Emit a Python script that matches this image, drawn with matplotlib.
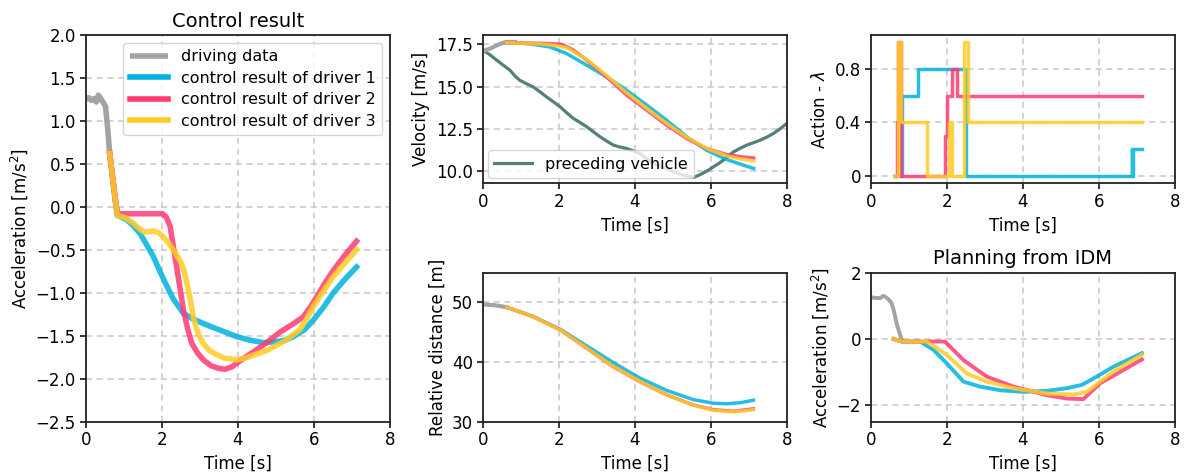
import matplotlib
matplotlib.use("Agg")
import matplotlib.pyplot as plt

# ---------------- data ----------------
# Control result (acceleration)
drv_t = [0.0, 0.08, 0.15, 0.22, 0.28, 0.33, 0.38, 0.45, 0.52, 0.58, 0.63, 0.70, 0.78, 0.85]
drv_a = [1.25, 1.27, 1.24, 1.26, 1.22, 1.30, 1.27, 1.22, 1.17, 0.90, 0.62, 0.35, 0.05, -0.10]

c1_t = [0.63, 0.83, 1.08, 1.25, 1.43, 1.60, 1.78, 1.95, 2.13, 2.30, 2.57, 2.80, 3.00, 3.27, 3.62, 3.97, 4.30, 4.67, 5.00, 5.25, 5.46, 5.75, 5.98, 6.25, 6.51, 6.80, 7.12]
c1_a = [0.62, -0.10, -0.15, -0.22, -0.31, -0.44, -0.58, -0.75, -0.92, -1.07, -1.24, -1.30, -1.34, -1.39, -1.45, -1.51, -1.55, -1.58, -1.57, -1.55, -1.51, -1.43, -1.32, -1.17, -1.00, -0.85, -0.70]

c2_t = [0.63, 0.83, 1.20, 1.60, 2.02, 2.12, 2.22, 2.30, 2.39, 2.48, 2.57, 2.68, 2.79, 2.94, 3.09, 3.30, 3.50, 3.66, 3.85, 4.06, 4.40, 4.76, 5.10, 5.46, 5.72, 5.90, 6.07, 6.30, 6.51, 6.80, 7.12]
c2_a = [0.62, -0.08, -0.08, -0.08, -0.08, -0.12, -0.23, -0.45, -0.70, -0.95, -1.20, -1.42, -1.59, -1.70, -1.78, -1.85, -1.88, -1.89, -1.86, -1.79, -1.69, -1.58, -1.46, -1.36, -1.28, -1.17, -1.05, -0.88, -0.74, -0.57, -0.40]

c3_t = [0.63, 0.83, 1.05, 1.25, 1.40, 1.52, 1.65, 1.78, 1.92, 2.04, 2.18, 2.30, 2.42, 2.52, 2.60, 2.66, 2.75, 2.83, 2.95, 3.09, 3.25, 3.44, 3.65, 3.97, 4.20, 4.45, 4.76, 4.98, 5.20, 5.42, 5.63, 5.80, 5.98, 6.25, 6.51, 6.80, 7.12]
c3_a = [0.62, -0.10, -0.13, -0.19, -0.25, -0.29, -0.29, -0.28, -0.30, -0.35, -0.42, -0.50, -0.58, -0.66, -0.77, -0.89, -1.08, -1.28, -1.47, -1.59, -1.67, -1.72, -1.76, -1.78, -1.76, -1.72, -1.67, -1.62, -1.57, -1.50, -1.43, -1.31, -1.16, -0.98, -0.81, -0.66, -0.50]

# Velocity
drv_vt = [0.0, 0.20, 0.37, 0.50, 0.63, 0.85]
drv_v = [17.10, 17.25, 17.44, 17.56, 17.64, 17.64]

pre_t = [0.0, 0.18, 0.37, 0.55, 0.72, 0.85, 0.98, 1.15, 1.33, 1.50, 1.68, 1.86, 2.04, 2.21, 2.39, 2.56, 2.74, 2.91, 3.09, 3.26, 3.44, 3.62, 3.79, 3.96, 4.14, 4.31, 4.49, 4.66, 4.84, 5.01, 5.19, 5.36, 5.54, 5.68, 5.81, 5.94, 6.07, 6.20, 6.33, 6.46, 6.60, 6.78, 6.95, 7.12, 7.30, 7.48, 7.65, 7.82, 8.0]
pre_v = [17.15, 16.90, 16.56, 16.25, 15.96, 15.62, 15.37, 15.17, 14.98, 14.70, 14.39, 14.10, 13.80, 13.45, 13.11, 12.88, 12.62, 12.33, 12.03, 11.78, 11.54, 11.42, 11.34, 11.20, 11.04, 10.75, 10.45, 10.30, 10.16, 9.98, 9.82, 9.72, 9.63, 9.75, 9.90, 10.06, 10.26, 10.44, 10.65, 10.90, 11.14, 11.36, 11.54, 11.68, 11.83, 12.02, 12.23, 12.50, 12.82]

v1_t = [0.63, 1.00, 1.33, 1.77, 2.21, 2.74, 3.26, 3.79, 4.32, 4.84, 5.37, 5.89, 6.42, 6.80, 7.13]
v1_v = [17.60, 17.57, 17.50, 17.34, 16.95, 16.26, 15.57, 14.78, 13.90, 13.01, 12.03, 11.24, 10.69, 10.40, 10.16]

v2_t = [0.63, 1.00, 1.50, 2.00, 2.10, 2.39, 2.74, 3.26, 3.79, 4.32, 4.84, 5.37, 5.89, 6.42, 6.80, 7.13]
v2_v = [17.60, 17.58, 17.56, 17.52, 17.48, 17.15, 16.56, 15.57, 14.49, 13.60, 12.72, 11.93, 11.34, 10.98, 10.85, 10.78]

v3_t = [0.63, 1.00, 1.50, 1.90, 2.21, 2.74, 3.26, 3.79, 4.32, 4.84, 5.37, 5.89, 6.42, 6.80, 7.13]
v3_v = [17.60, 17.57, 17.52, 17.44, 17.30, 16.60, 15.65, 14.62, 13.70, 12.82, 12.00, 11.35, 10.90, 10.72, 10.60]

# Relative distance
drv_dt = [0.0, 0.15, 0.30, 0.45, 0.63]
drv_d = [49.7, 49.6, 49.55, 49.4, 49.2]

d1_t = [0.63, 1.33, 2.04, 2.74, 3.44, 4.14, 4.84, 5.54, 6.07, 6.42, 6.80, 7.12]
d1_d = [49.2, 47.65, 45.5, 42.7, 39.9, 37.3, 35.25, 33.7, 33.1, 33.0, 33.2, 33.6]

d2_t = [0.63, 1.33, 2.04, 2.74, 3.44, 4.14, 4.84, 5.54, 6.07, 6.60, 7.12]
d2_d = [49.2, 47.6, 45.4, 42.3, 39.2, 36.7, 34.5, 32.8, 32.0, 31.75, 32.15]

d3_t = [0.63, 1.33, 2.04, 2.74, 3.44, 4.14, 4.84, 5.54, 6.07, 6.60, 7.12]
d3_d = [49.2, 47.6, 45.4, 42.35, 39.25, 36.75, 34.5, 32.75, 31.9, 31.65, 32.0]

# Action - lambda (step change points)
l1_t = [0.63, 0.70, 0.82, 1.25, 2.50, 2.55, 6.86, 6.88, 6.90, 6.93, 7.13]
l1_v = [0.0, 0.0, 0.6, 0.8, 0.0, 0.0, 0.2, 0.0, 0.2, 0.2, 0.2]

l2_t = [0.63, 0.69, 0.71, 0.80, 1.95, 2.00, 2.13, 2.17, 2.28, 2.32, 7.13]
l2_v = [0.0, 0.4, 1.0, 0.0, 0.3, 0.6, 0.8, 0.8, 0.6, 0.6, 0.6]

l3_t = [0.63, 0.73, 0.80, 1.47, 2.05, 2.13, 2.45, 2.55, 7.13]
l3_v = [0.0, 1.0, 0.4, 0.0, 0.4, 0.0, 1.0, 0.4, 0.4]

# Planning from IDM
pdrv_t = [0.0, 0.10, 0.25, 0.33, 0.40, 0.46, 0.55, 0.62, 0.68, 0.75, 0.82]
pdrv_a = [1.26, 1.24, 1.23, 1.30, 1.26, 1.20, 1.08, 0.80, 0.47, 0.20, -0.03]

p1_t = [0.60, 0.82, 1.30, 1.65, 2.00, 2.44, 2.87, 3.40, 4.01, 4.63, 5.15, 5.55, 5.94, 6.38, 7.13]
p1_a = [0.0, -0.08, -0.08, -0.33, -0.74, -1.29, -1.44, -1.55, -1.60, -1.57, -1.49, -1.39, -1.14, -0.84, -0.43]

p2_t = [0.60, 0.82, 1.95, 2.44, 3.05, 3.75, 4.63, 5.15, 5.59, 6.03, 7.13]
p2_a = [0.0, -0.08, -0.08, -0.64, -1.14, -1.44, -1.70, -1.80, -1.82, -1.34, -0.62]

p3_t = [0.60, 0.82, 1.47, 2.00, 2.52, 3.05, 3.75, 4.63, 5.33, 5.68, 6.03, 6.38, 7.13]
p3_a = [0.0, -0.08, -0.08, -0.48, -1.04, -1.29, -1.49, -1.65, -1.68, -1.60, -1.29, -0.99, -0.48]

labels = ["driving data", "control result of driver 1",
          "control result of driver 2", "control result of driver 3"]

# ---------------- style ----------------
C_DRV = "#a3a3a3"
C1 = "#00b2dd"
C2 = "#ff3a72"
C3 = "#ffcc26"
C_PRE = "#557f7b"
ALPHA = 0.85

plt.rcParams.update({
    "font.family": "DejaVu Sans",
    "font.size": 11,
    "axes.linewidth": 1.3,
    "axes.edgecolor": "#222222",
    "xtick.labelsize": 12,
    "ytick.labelsize": 12,
    "axes.labelsize": 12,
})

fig = plt.figure(figsize=(11.84, 4.73), dpi=100)

def grid(ax):
    ax.grid(True, ls=(0, (4, 3)), color="#c8c8c8", lw=1.1)
    ax.set_axisbelow(True)
    ax.tick_params(length=4, width=1.1, pad=3)

# Left: Control result
ax0 = fig.add_axes([0.0724, 0.1085, 0.257, 0.8175])
ax0.plot(drv_t, drv_a, color=C_DRV, lw=4, label=labels[0], solid_capstyle="butt")
ax0.plot(c1_t, c1_a, color=C1, lw=4, alpha=ALPHA, label=labels[1])
ax0.plot(c2_t, c2_a, color=C2, lw=4, alpha=ALPHA, label=labels[2])
ax0.plot(c3_t, c3_a, color=C3, lw=4, alpha=ALPHA, label=labels[3])
ax0.set_xlim(0, 8)
ax0.set_ylim(-2.5, 2.0)
ax0.set_xticks([0, 2, 4, 6, 8])
ax0.set_yticks([2.0, 1.5, 1.0, 0.5, 0.0, -0.5, -1.0, -1.5, -2.0, -2.5])
ax0.set_xlabel("Time [s]")
ax0.set_ylabel("Acceleration [m/s$^2$]")
ax0.set_title("Control result", fontsize=14)
leg = ax0.legend(loc="upper right", fontsize=11.5, handlelength=2.4, borderaxespad=0.5,
                 labelspacing=0.4, handletextpad=0.8, framealpha=0.8)
for lh in leg.get_lines():
    lh.set_alpha(1)
grid(ax0)

# Middle top: velocity
ax1 = fig.add_axes([0.4077, 0.6131, 0.2568, 0.3129])
ax1.plot(pre_t, pre_v, color=C_PRE, lw=2.3, label="preceding vehicle")
ax1.plot(drv_vt, drv_v, color=C_DRV, lw=3)
ax1.plot(v1_t, v1_v, color=C1, lw=2.5, alpha=ALPHA)
ax1.plot(v2_t, v2_v, color=C2, lw=2.5, alpha=ALPHA)
ax1.plot(v3_t, v3_v, color=C3, lw=2.5, alpha=ALPHA)
ax1.set_xlim(0, 8)
ax1.set_ylim(9.3, 18.05)
ax1.set_xticks([0, 2, 4, 6, 8])
ax1.set_yticks([10.0, 12.5, 15.0, 17.5])
ax1.set_xlabel("Time [s]")
ax1.set_ylabel("Velocity [m/s]")
ax1.legend(loc="lower left", fontsize=11.5, handlelength=2.4, borderaxespad=0.3, framealpha=0.8)
grid(ax1)

# Middle bottom: relative distance
ax2 = fig.add_axes([0.4077, 0.1085, 0.2568, 0.315])
ax2.plot(drv_dt, drv_d, color=C_DRV, lw=3)
ax2.plot(d1_t, d1_d, color=C1, lw=2.5, alpha=ALPHA)
ax2.plot(d2_t, d2_d, color=C2, lw=2.5, alpha=ALPHA)
ax2.plot(d3_t, d3_d, color=C3, lw=2.5, alpha=ALPHA)
ax2.set_xlim(0, 8)
ax2.set_ylim(30, 55)
ax2.set_xticks([0, 2, 4, 6, 8])
ax2.set_yticks([30, 40, 50])
ax2.set_xlabel("Time [s]")
ax2.set_ylabel("Relative distance [m]")
grid(ax2)

# Right top: action
ax3 = fig.add_axes([0.7354, 0.6131, 0.257, 0.3129])
ax3.plot(l1_t, l1_v, color=C1, lw=2.5, alpha=ALPHA, drawstyle="steps-post")
ax3.plot(l2_t, l2_v, color=C2, lw=2.5, alpha=ALPHA, drawstyle="steps-post")
ax3.plot(l3_t, l3_v, color=C3, lw=2.5, alpha=ALPHA, drawstyle="steps-post")
ax3.set_xlim(0, 8)
ax3.set_ylim(-0.05, 1.05)
ax3.set_xticks([0, 2, 4, 6, 8])
ax3.set_yticks([0, 0.4, 0.8])
ax3.set_yticklabels(["0", "0.4", "0.8"])
ax3.set_xlabel("Time [s]")
ax3.set_ylabel("Action - $\\lambda$")
grid(ax3)

# Right bottom: planning from IDM
ax4 = fig.add_axes([0.7354, 0.1085, 0.257, 0.315])
ax4.plot(pdrv_t, pdrv_a, color=C_DRV, lw=2.8)
ax4.plot(p1_t, p1_a, color=C1, lw=2.8, alpha=ALPHA)
ax4.plot(p2_t, p2_a, color=C2, lw=2.8, alpha=ALPHA)
ax4.plot(p3_t, p3_a, color=C3, lw=2.8, alpha=ALPHA)
ax4.set_xlim(0, 8)
ax4.set_ylim(-2.5, 2)
ax4.set_xticks([0, 2, 4, 6, 8])
ax4.set_yticks([-2, 0, 2])
ax4.set_xlabel("Time [s]")
ax4.set_ylabel("Acceleration [m/s$^2$]")
ax4.set_title("Planning from IDM", fontsize=14)
grid(ax4)

fig.savefig("out.png", dpi=100)
